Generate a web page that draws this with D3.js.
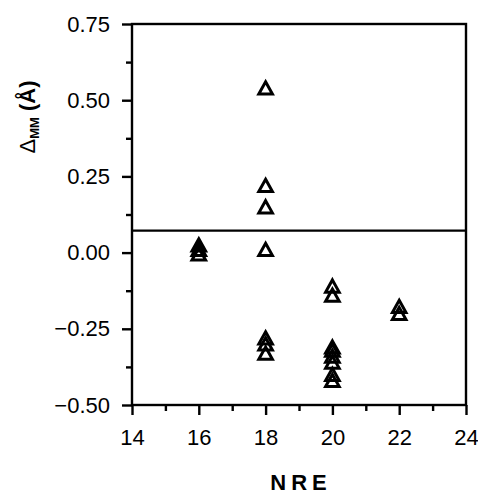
<!DOCTYPE html>
<html>
<head>
<meta charset="utf-8">
<script src="https://cdn.jsdelivr.net/npm/d3@7"></script>
<style>
  body { margin: 0; background: #fff; }
  svg { display: block; }
</style>
</head>
<body>
<div id="chart"></div>
<script>
// NRE groups and the delta MM values found at each one
const nreGroups = [16, 18, 20, 22]
const deltaByGroup = [
  [0.025, 0.01, -0.005],
  [0.54, 0.22, 0.15, 0.01, -0.28, -0.30, -0.33],
  [-0.11, -0.14, -0.31, -0.32, -0.34, -0.36, -0.40, -0.42],
  [-0.177, -0.20]
]
const refLine = 0.072
const xTicks = [14, 16, 18, 20, 22, 24]
const xMinor = [15, 17, 19, 21, 23]
const yTicks = [0.75, 0.5, 0.25, 0, -0.25, -0.5]
const yMinor = [0.625, 0.375, 0.125, -0.125, -0.375]

let width = 478, height = 494
let margin = {top: 24, right: 12, bottom: 89, left: 132}
let innerWidth = width - margin.left - margin.right
let innerHeight = height - margin.top - margin.bottom

const svg = d3.select('#chart').append('svg')
  .attr('width', width).attr('height', height)

const g = svg.append('g').attr('transform', `translate(${margin.left},${margin.top})`)

let xScale = d3.scaleLinear().domain([14, 24]).range([0, innerWidth])
let yScale = d3.scaleLinear().domain([-0.5, 0.75]).range([innerHeight, 0])

// axes (major + minor ticks, outward)
let gx = g.append('g').attr('transform', `translate(0,${innerHeight})`)
  .call(d3.axisBottom(xScale).tickValues(xTicks).tickSize(10).tickPadding(11).tickFormat(d3.format('d')))
g.append('g').attr('transform', `translate(0,${innerHeight})`)
  .call(d3.axisBottom(xScale).tickValues(xMinor).tickSize(6).tickFormat(''))
let gy = g.append('g')
  .call(d3.axisLeft(yScale).tickValues(yTicks).tickSize(10).tickPadding(12).tickFormat(d3.format('.2f')))
g.append('g')
  .call(d3.axisLeft(yScale).tickValues(yMinor).tickSize(6).tickFormat(''))

g.selectAll('.domain').remove()
g.selectAll('.tick line').attr('stroke', '#000').attr('stroke-width', 2.4)
g.selectAll('.tick text')
  .attr('font-family', null).attr('font-size', null)
  .style('font-family', '"Liberation Sans", Arial, sans-serif')
  .style('font-size', '22px')
  .style('fill', '#000')
gx.selectAll('.tick text').attr('dy', '0.85em')

// frame
g.append('rect')
  .attr('x', 0).attr('y', 0)
  .attr('width', innerWidth).attr('height', innerHeight)
  .attr('fill', 'none').attr('stroke', '#000').attr('stroke-width', 2.4)

// reference line
g.append('line')
  .attr('x1', 0).attr('x2', innerWidth)
  .attr('y1', yScale(refLine)).attr('y2', yScale(refLine))
  .attr('stroke', '#000').attr('stroke-width', 2.2)

// points
let points = []
nreGroups.forEach((n, i) => {
  deltaByGroup[i].forEach(v => points.push({nre: n, delta: v}))
})

let tri = 'M0,-6.2L6.8,6L-6.8,6Z'
g.selectAll('.pt')
  .data(points)
  .enter().append('path')
  .attr('class', 'pt')
  .attr('d', tri)
  .attr('transform', d => `translate(${xScale(d.nre)},${yScale(d.delta)})`)
  .attr('fill', 'none')
  .attr('stroke', '#000')
  .attr('stroke-width', 3)
  .attr('stroke-linejoin', 'miter')

// x axis title
svg.append('text')
  .attr('x', 301).attr('y', 490)
  .attr('text-anchor', 'middle')
  .style('font-family', '"Liberation Sans", Arial, sans-serif')
  .style('font-weight', 'bold')
  .style('font-size', '22px')
  .style('letter-spacing', '5px')
  .text('NRE')

// y axis title
let yt = svg.append('text')
  .attr('transform', 'translate(35,117) rotate(-90)')
  .attr('text-anchor', 'middle')
  .style('font-family', '"Liberation Sans", Arial, sans-serif')
  .style('font-size', '22px')
yt.append('tspan').text('Δ')
yt.append('tspan').attr('dy', 4).style('font-size', '13px').style('font-weight', 'bold').text('MM')
yt.append('tspan').attr('dy', -4).style('font-weight', 'bold').text(' (Å)')
</script>
</body>
</html>
